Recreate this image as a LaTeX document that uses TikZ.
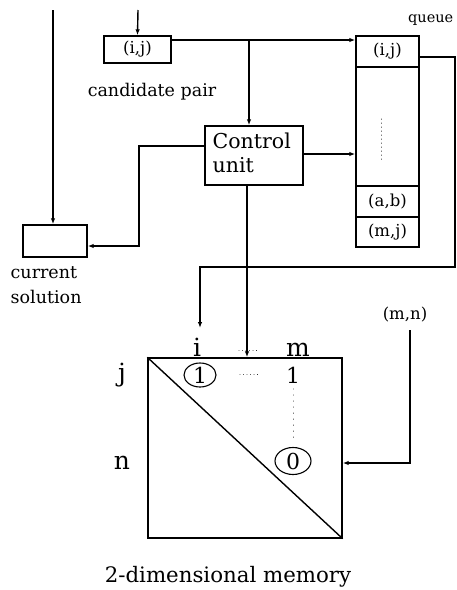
\documentclass[tikz,border=0pt]{standalone}
\usepackage{fontspec}
\setmainfont{DejaVu Serif}
\usetikzlibrary{arrows.meta,shapes.geometric}
\begin{document}
\begin{tikzpicture}[x=1pt,y=-1pt,
  line width=1.4pt,
  arr/.style={-{Latex[length=6pt,width=4.5pt]}},
  box/.style={draw,rectangle,inner sep=0pt,anchor=center},
  pair/.style={font=\fontsize{16.5}{18}\selectfont},
  lbl/.style={font=\fontsize{17.5}{25}\selectfont,inner sep=0pt},
  big/.style={font=\fontsize{25}{28}\selectfont,inner sep=0pt},
  dotl/.style={line width=1pt,dash pattern=on 0.01pt off 4pt,line cap=round}
]
\useasboundingbox (0,0) rectangle (457,590);

% top inputs
\coordinate (lt) at (53,10);
\coordinate (it) at (138,10);

% candidate pair
\node[box,pair,minimum width=67pt,minimum height=27pt] (ij) at (137.5,49.5) {(i,j)};
\node[lbl] (cand) at (152,92) {candidate pair};

% control unit
\node[box,minimum width=98pt,minimum height=59pt] (ctrl) at (254,155.5) {};
\node[font=\fontsize{20.5}{24}\selectfont,align=left,inner sep=0pt,anchor=north west] (ctrltxt) at (212,132) {Control\\unit};

% queue
\node[box,pair,minimum width=63pt,minimum height=31pt] (q1) at (387.5,51.5) {(i,j)};
\node[box,minimum width=63pt,minimum height=119pt] (qmid) at (387.5,126.5) {};
\node[box,pair,minimum width=63pt,minimum height=31pt] (qab) at (387.5,201.5) {(a,b)};
\node[box,pair,minimum width=63pt,minimum height=30pt] (qmj) at (387.5,232) {(m,j)};
\node[font=\fontsize{14.5}{16}\selectfont,inner sep=0pt,anchor=east] (qlbl) at (454,20) {queue};
\coordinate (qd1) at (381,119);
\coordinate (qd2) at (381,163);
\draw[dotl] (qd1) -- (qd2);

% current solution
\node[box,minimum width=64pt,minimum height=32pt] (cs) at (55,241) {};
\node[lbl,align=left,anchor=north west] (cslbl) at (10,266) {current\\solution};

% memory
\node[box,minimum width=194pt,minimum height=180pt] (mem) at (245,448) {};
\draw (mem.north west) -- (mem.south east);
\node[big,anchor=base] (li) at (197,356) {i};
\node[big,anchor=base] (lm) at (298,356) {m};
\node[big] (lj) at (122,375) {j};
\node[big] (ln) at (122,463) {n};
\node[draw,ellipse,line width=1.1pt,minimum width=32pt,minimum height=24pt,inner sep=0pt,font=\fontsize{22}{24}\selectfont] (c1) at (200,375) {1};
\node[big,font=\fontsize{22}{24}\selectfont] (one) at (293,375) {1};
\node[draw,ellipse,line width=1.1pt,minimum width=36pt,minimum height=27pt,inner sep=0pt,font=\fontsize{22}{24}\selectfont] (c0) at (293,461) {0};
\coordinate (hd1) at (239,350);
\coordinate (hd2) at (259,350);
\draw[dotl,line width=0.8pt,dash pattern=on 0.01pt off 3.5pt] (hd1) -- (hd2);
\coordinate (rd1) at (240,374);
\coordinate (rd2) at (260,374);
\draw[dotl,line width=0.8pt,dash pattern=on 0.01pt off 3.5pt] (rd1) -- (rd2);
\coordinate (vd1) at (293,389);
\coordinate (vd2) at (293,438);
\draw[dotl,line width=0.9pt,dash pattern=on 0.01pt off 6pt] (vd1) -- (vd2);

\node[pair,inner sep=0pt] (mn) at (405,315) {(m,n)};
\node[font=\fontsize{21.3}{24}\selectfont,inner sep=0pt] (cap) at (228,577) {2-dimensional memory};

% connectors
\draw[arr] (it) -- (ij.north);
\draw[arr] (lt) -- (lt |- cs.north);
\draw[arr] (ij.east |- 0,40) -- (q1.west |- 0,40);
\draw[arr] (249,40) -- (249,0 |- ctrl.north);
\draw[arr] (ctrl.west |- 0,146) -- (139,146) -- (139,246) -- (cs.east |- 0,246);
\draw[arr] (ctrl.east |- 0,154) -- (qmid.west |- 0,154);
\draw[arr] (q1.east |- 0,57) -- (455,57) -- (455,267) -- (200,267) -- (200,328);
\draw[arr] (247,0 |- ctrl.south) -- (247,0 |- mem.north);
\draw[arr] (410,330) -- (410,463) -- (mem.east |- 0,463);
\end{tikzpicture}
\end{document}
